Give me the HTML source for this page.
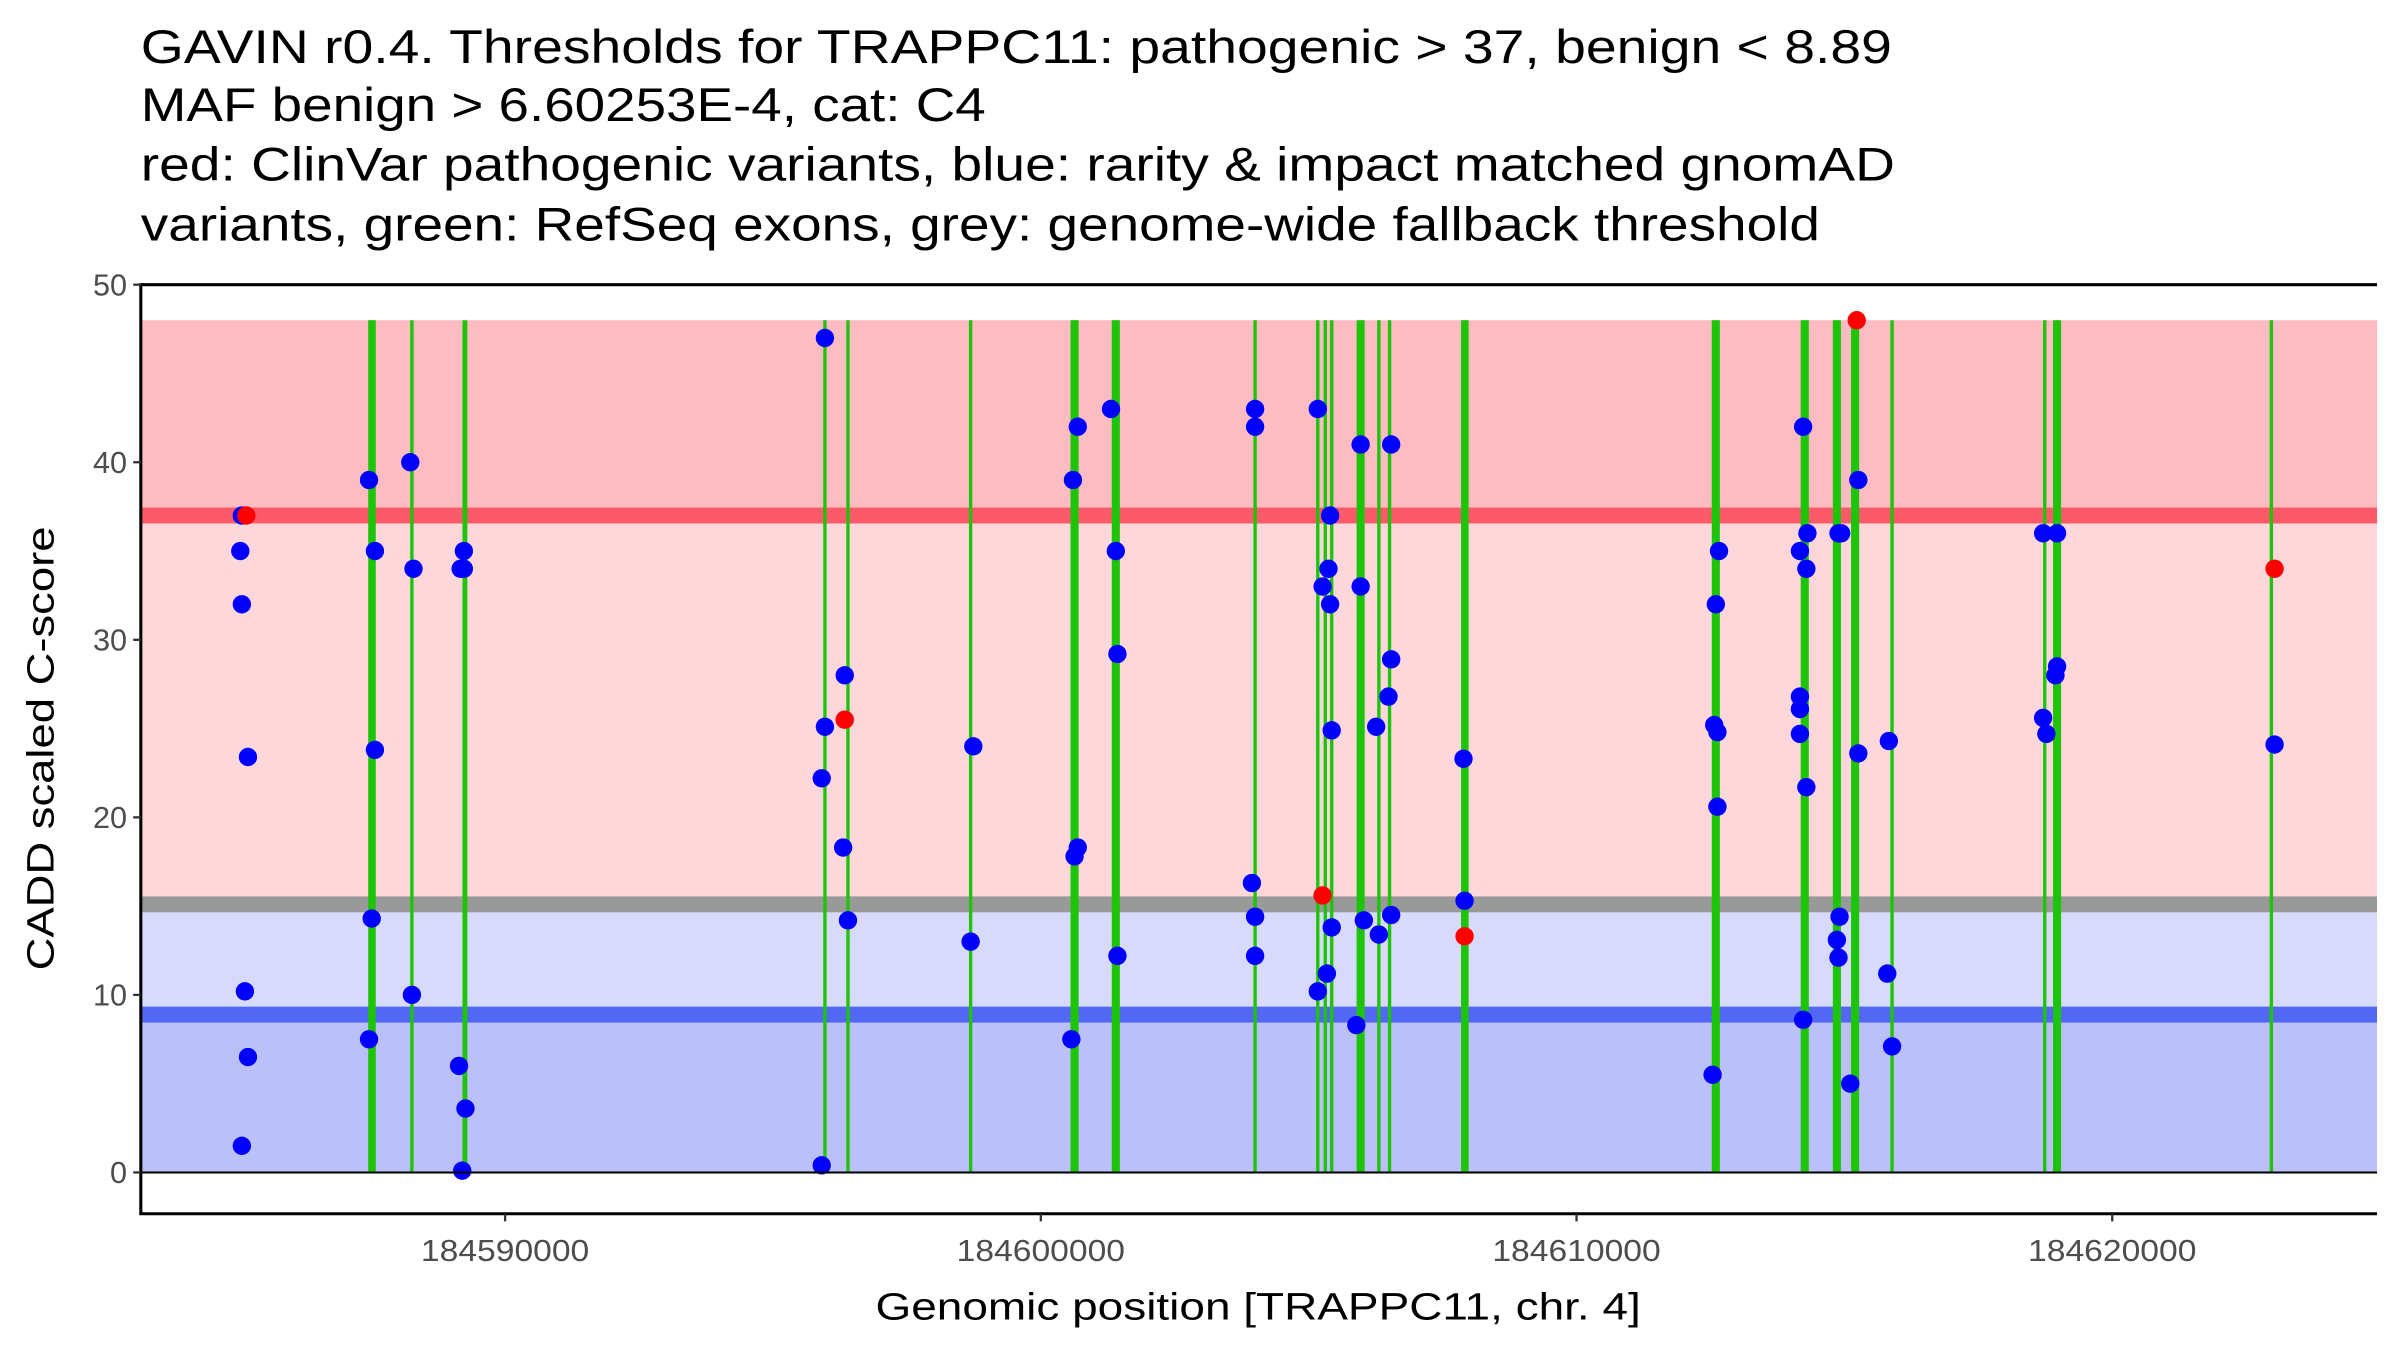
<!DOCTYPE html>
<html><head><meta charset="utf-8"><style>
html,body{margin:0;padding:0;background:#fff;}
svg{display:block;}
text{font-family:"Liberation Sans",Arial,sans-serif;}
</style></head><body>
<svg id="chart" width="2400" height="1350" viewBox="0 0 1568 882" preserveAspectRatio="none" xmlns="http://www.w3.org/2000/svg">
<g font-size="31" fill="#000">
<text x="92" y="41" textLength="1144" lengthAdjust="spacingAndGlyphs">GAVIN r0.4. Thresholds for TRAPPC11: pathogenic &gt; 37, benign &lt; 8.89</text>
<text x="92" y="79" textLength="552" lengthAdjust="spacingAndGlyphs">MAF benign &gt; 6.60253E-4, cat: C4</text>
<text x="92" y="118" textLength="1146" lengthAdjust="spacingAndGlyphs">red: ClinVar pathogenic variants, blue: rarity &amp; impact matched gnomAD</text>
<text x="92" y="157" textLength="1097" lengthAdjust="spacingAndGlyphs">variants, green: RefSeq exons, grey: genome-wide fallback threshold</text>
</g>
<g id="bands"></g>
<g id="exons"></g>
<g id="points"></g>
<g id="axes"></g>
<text x="822" y="862" font-size="25" text-anchor="middle" textLength="500" lengthAdjust="spacingAndGlyphs">Genomic position [TRAPPC11, chr. 4]</text>
<text transform="translate(35,489) rotate(-90)" font-size="25" text-anchor="middle" textLength="290" lengthAdjust="spacingAndGlyphs">CADD scaled C-score</text>
</svg>
<script>
const yTicks=[0,10,20,30,40,50];
const xTicks=[184590000,184600000,184610000,184620000];
const xTickLabels=["184590000","184600000","184610000","184620000"];
const pathThr=37, benignThr=8.89, fallbackThr=15.1, bandTop=48;
const exonPos=[184587490,184587540,184588260,184589250,184595970,184596400,184598690,184600600,184600660,184601370,184601430,184604000,184605170,184605310,184605430,184605940,184606000,184606310,184606510,184607890,184607940,184612570,184612630,184614230,184614290,184614830,184614890,184615170,184615230,184615890,184618740,184618940,184619000,184622970];
const exonWide=[1,1,0,1,0,0,0,1,1,1,1,0,0,0,0,1,1,0,0,1,1,1,1,1,1,1,1,1,1,0,0,1,1,0];
const benignX=[184585086,184585057,184585086,184585200,184585143,184585200,184585086,184587460,184587570,184587570,184587510,184587460,184588230,184588290,184588260,184589230,184589170,184589230,184589140,184589260,184589200,184595970,184595970,184595910,184596340,184596310,184596400,184595910,184598740,184598690,184600600,184600690,184600690,184600630,184600570,184601310,184601400,184601430,184601430,184604000,184604000,184603940,184604000,184604000,184605170,184605260,184605370,184605400,184605400,184605430,184605430,184605340,184605170,184605970,184605970,184606030,184605890,184606260,184606310,184606540,184606540,184606490,184606540,184607890,184607910,184612570,184612600,184612660,184612630,184612630,184612540,184614230,184614310,184614170,184614290,184614170,184614170,184614170,184614290,184614890,184614940,184614910,184614860,184614890,184614230,184615260,184615260,184615110,184615830,184615800,184615890,184618710,184618970,184618710,184618770,184618970,184618940,184623030];
const benignY=[37,35,32,23.4,10.2,6.5,1.5,39,35,23.8,14.3,7.5,40,34,10,35,34,34,6,3.6,0.1,47,25.1,22.2,28,18.3,14.2,0.4,24,13,39,42,18.3,17.8,7.5,43,35,29.2,12.2,43,42,16.3,14.4,12.2,43,33,34,37,32,24.9,13.8,11.2,10.2,41,33,14.2,8.3,25.1,13.4,41,28.9,26.8,14.5,23.3,15.3,25.2,32,35,24.8,20.6,5.5,42,36,35,34,26.8,26.1,24.7,21.7,36,36,14.4,13.1,12.1,8.6,39,23.6,5,24.3,11.2,7.1,36,36,25.6,24.7,28.5,28,24.1];
const pathX=[184585170,184596340,184605260,184607910,184615230,184623030];
const pathY=[37,25.5,15.6,13.3,48,34];

const NS="http://www.w3.org/2000/svg";
const L=92,R=1553,T=186,B=793;
const xs=v=>330+(v-184590000)/10000*350;
const ys=v=>766-v*11.6;
function mk(tag,attrs,parent){const e=document.createElementNS(NS,tag);for(const k in attrs)e.setAttribute(k,attrs[k]);parent.appendChild(e);return e;}
const bands=document.getElementById('bands');
const bandDefs=[[bandTop,pathThr,'#fcbcc1','band-pathogenic'],[pathThr,fallbackThr,'#fed7db','band-intermediate-high'],[fallbackThr,benignThr,'#d8dafb','band-intermediate-low'],[benignThr,0,'#bbc0f8','band-benign']];
bandDefs.forEach(b=>{const r=mk('rect',{x:L,y:ys(b[0]),width:R-L,height:ys(b[1])-ys(b[0]),fill:b[2]},bands);

});
[[pathThr,'#fb5a69','pathogenic-threshold-line'],[fallbackThr,'#999999','fallback-threshold-line'],[benignThr,'#5268f2','benign-threshold-line']].forEach(t=>{const r=mk('rect',{x:L,y:ys(t[0])-5.2,width:R-L,height:10.4,fill:t[1]},bands);

});
const ex=document.getElementById('exons');
exonPos.forEach((p,i)=>{const l=mk('line',{x1:xs(p),x2:xs(p),y1:ys(bandTop),y2:ys(0),stroke:'#1ec40a','stroke-width':exonWide[i]?3.2:2.2},ex);

});
const pts=document.getElementById('points');
benignX.forEach((x,i)=>{const c=mk('ellipse',{cx:xs(x),cy:ys(benignY[i]),rx:6,ry:6,fill:'#0000ff'},pts);

});
pathX.forEach((x,i)=>{const c=mk('ellipse',{cx:xs(x),cy:ys(pathY[i]),rx:6,ry:6,fill:'#ff0000'},pts);

});
const ax=document.getElementById('axes');
const zl=mk('line',{x1:L,x2:R,y1:ys(0),y2:ys(0),stroke:'#000','stroke-width':1.3},ax);


const frame=mk('path',{d:`M${R},${T} H${L} V${B} H${R}`,fill:'none',stroke:'#000','stroke-width':2},ax);


yTicks.forEach(v=>{mk('line',{x1:L-5,x2:L,y1:ys(v),y2:ys(v),stroke:'#333','stroke-width':1.5},ax);
const t=mk('text',{x:L-9,y:ys(v)+7,'font-size':20,'text-anchor':'end',fill:'#4d4d4d'},ax);t.textContent=v;

});
xTicks.forEach((v,i)=>{mk('line',{x1:xs(v),x2:xs(v),y1:B,y2:B+5,stroke:'#333','stroke-width':1.5},ax);
const t=mk('text',{x:xs(v),y:B+31,'font-size':20,'text-anchor':'middle',fill:'#4d4d4d',textLength:110,lengthAdjust:'spacingAndGlyphs'},ax);t.textContent=xTickLabels[i];

});
</script>
</body></html>
